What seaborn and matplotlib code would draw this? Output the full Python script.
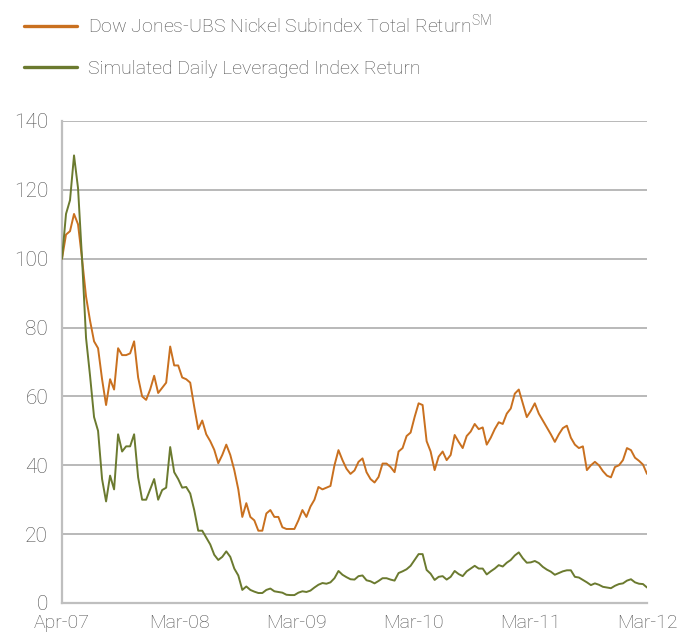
import numpy as np
import pandas as pd
import matplotlib
matplotlib.use("Agg")
import matplotlib.pyplot as plt
import seaborn as sns

# ---- data (roughly bi-weekly samples) ----
nickel = [100, 107, 108, 113, 110, 100, 89, 82, 76, 74, 65, 57.5, 65, 62, 74, 72, 72, 72.5, 76, 65.5,
          60, 59, 62, 66, 61, 62.5, 64, 74.5, 69, 69, 65.5, 65, 64, 57, 50.5, 53, 49, 47, 44.5, 40.6,
          43, 46, 43, 38.6, 33, 25, 29, 25, 24, 21, 21, 26, 27, 25, 25, 22, 21.5, 21.5, 21.5, 24,
          27, 25, 28, 30, 33.7, 33, 33.5, 34, 40, 44.4, 41.5, 39, 37.5, 38.5, 41, 42, 38, 36, 35, 36.6,
          40.5, 40.5, 39.5, 38, 44, 45, 48.5, 49.5, 54, 58, 57.5, 47, 44, 38.6, 42.5, 44, 41.5, 43, 48.8, 46.8,
          45, 48.5, 49.8, 52, 50.5, 51, 46, 48, 50.5, 52.5, 52, 55, 56.5, 60.8, 62, 58, 54, 55.8, 58, 55,
          53, 51, 49, 46.8, 49, 50.8, 51.5, 48, 46, 45, 45.5, 38.6, 40, 41, 40, 38.3, 37, 36.5, 39.5, 40,
          41.5, 45, 44.4, 42.2, 41.3, 40.2, 37.5]
leveraged = [100, 113, 117, 130, 120.5, 100, 77, 66, 54, 50, 36, 29.5, 37, 33, 49, 44, 45.5, 45.5, 49, 36.5,
             30, 30, 33, 36, 30, 32.8, 33.5, 45.3, 38, 36, 33.5, 33.7, 31.8, 27, 21, 21, 19, 17, 14, 12.5,
             13.4, 15, 13.4, 10, 8, 3.8, 4.8, 3.8, 3.3, 2.9, 2.9, 3.8, 4.2, 3.4, 3.2, 3.0, 2.4, 2.3, 2.3, 3.0,
             3.4, 3.2, 3.6, 4.5, 5.3, 5.8, 5.6, 6.0, 7.2, 9.3, 8.2, 7.5, 6.9, 6.8, 7.8, 8.0, 6.6, 6.3, 5.7, 6.4,
             7.2, 7.2, 6.8, 6.5, 8.7, 9.2, 9.8, 10.8, 12.5, 14.2, 14.2, 9.6, 8.5, 6.7, 7.6, 7.8, 6.8, 7.6, 9.3, 8.4,
             7.8, 9.2, 10, 10.8, 10, 10, 8.3, 9.2, 10, 11, 10.6, 11.7, 12.5, 13.8, 14.7, 13, 11.7, 11.8, 12.2, 11.6,
             10.5, 9.7, 9.1, 8.2, 8.7, 9.2, 9.5, 9.5, 7.6, 7.4, 6.7, 6.0, 5.2, 5.7, 5.3, 4.7, 4.5, 4.3, 5.0, 5.5,
             5.7, 6.5, 6.9, 6.0, 5.6, 5.5, 4.5]
x_labels = ["Apr-07", "Mar-08", "Mar-09", "Mar-10", "Mar-11", "Mar-12"]
y_ticks = [0, 20, 40, 60, 80, 100, 120, 140]
series_names = ["Dow Jones-UBS Nickel Subindex Total Return$^{\\mathregular{SM}}$",
                "Simulated Daily Leveraged Index Return"]

n = min(len(nickel), len(leveraged))
df = pd.DataFrame({
    "t": np.concatenate([np.arange(n), np.arange(n)]),
    "value": nickel[:n] + leveraged[:n],
    "series": [series_names[0]] * n + [series_names[1]] * n,
})

sns.set_theme(style="white")
plt.rcParams["font.family"] = ["Roboto", "DejaVu Sans"]
plt.rcParams["font.weight"] = "light"
plt.rcParams["mathtext.fontset"] = "custom"
plt.rcParams["mathtext.rm"] = "Roboto:light"

fig = plt.figure(figsize=(6.78, 6.35), dpi=100)
ax = fig.add_axes([62 / 678, 1 - 603 / 635, (647 - 62) / 678, (603 - 121) / 635])

palette = {series_names[0]: "#C9701F", series_names[1]: "#6B7A2F"}
sns.lineplot(data=df, x="t", y="value", hue="series", palette=palette,
             linewidth=1.4, ax=ax, legend=True, zorder=3)

ax.set_xlim(0, n - 1)
ax.set_ylim(0, 140)
ax.set_yticks(y_ticks)
ax.set_yticklabels([str(v) for v in y_ticks])
ax.set_xticks(np.linspace(0, n - 1, len(x_labels)))
ax.set_xticklabels(x_labels)
ax.set_xlabel("")
ax.set_ylabel("")

ax.yaxis.grid(True, color="#A6A6A6", linewidth=1.1)
ax.xaxis.grid(False)
ax.set_axisbelow(True)
for side in ["top", "right"]:
    ax.spines[side].set_visible(False)
for side in ["left", "bottom"]:
    ax.spines[side].set_color("#BFBFBF")
    ax.spines[side].set_linewidth(1.6)
ax.tick_params(axis="both", which="both", colors="#A6A6A6", labelcolor="#505050",
               labelsize=14, length=5, width=1.1, direction="out", pad=3)
ax.tick_params(axis="y", labelsize=15, pad=5)

handles, labels = ax.get_legend_handles_labels()
for h in handles:
    h.set_linewidth(2.4)
leg = fig.legend(handles, labels, loc="upper left", bbox_to_anchor=(24 / 678, 1 - 12 / 635),
                 frameon=False, fontsize=14, handlelength=2.7, handletextpad=0.6,
                 labelspacing=1.2, borderaxespad=0, borderpad=0)
for t in leg.get_texts():
    t.set_color("#505050")
ax.get_legend().remove()

fig.savefig("out.png", dpi=100)
